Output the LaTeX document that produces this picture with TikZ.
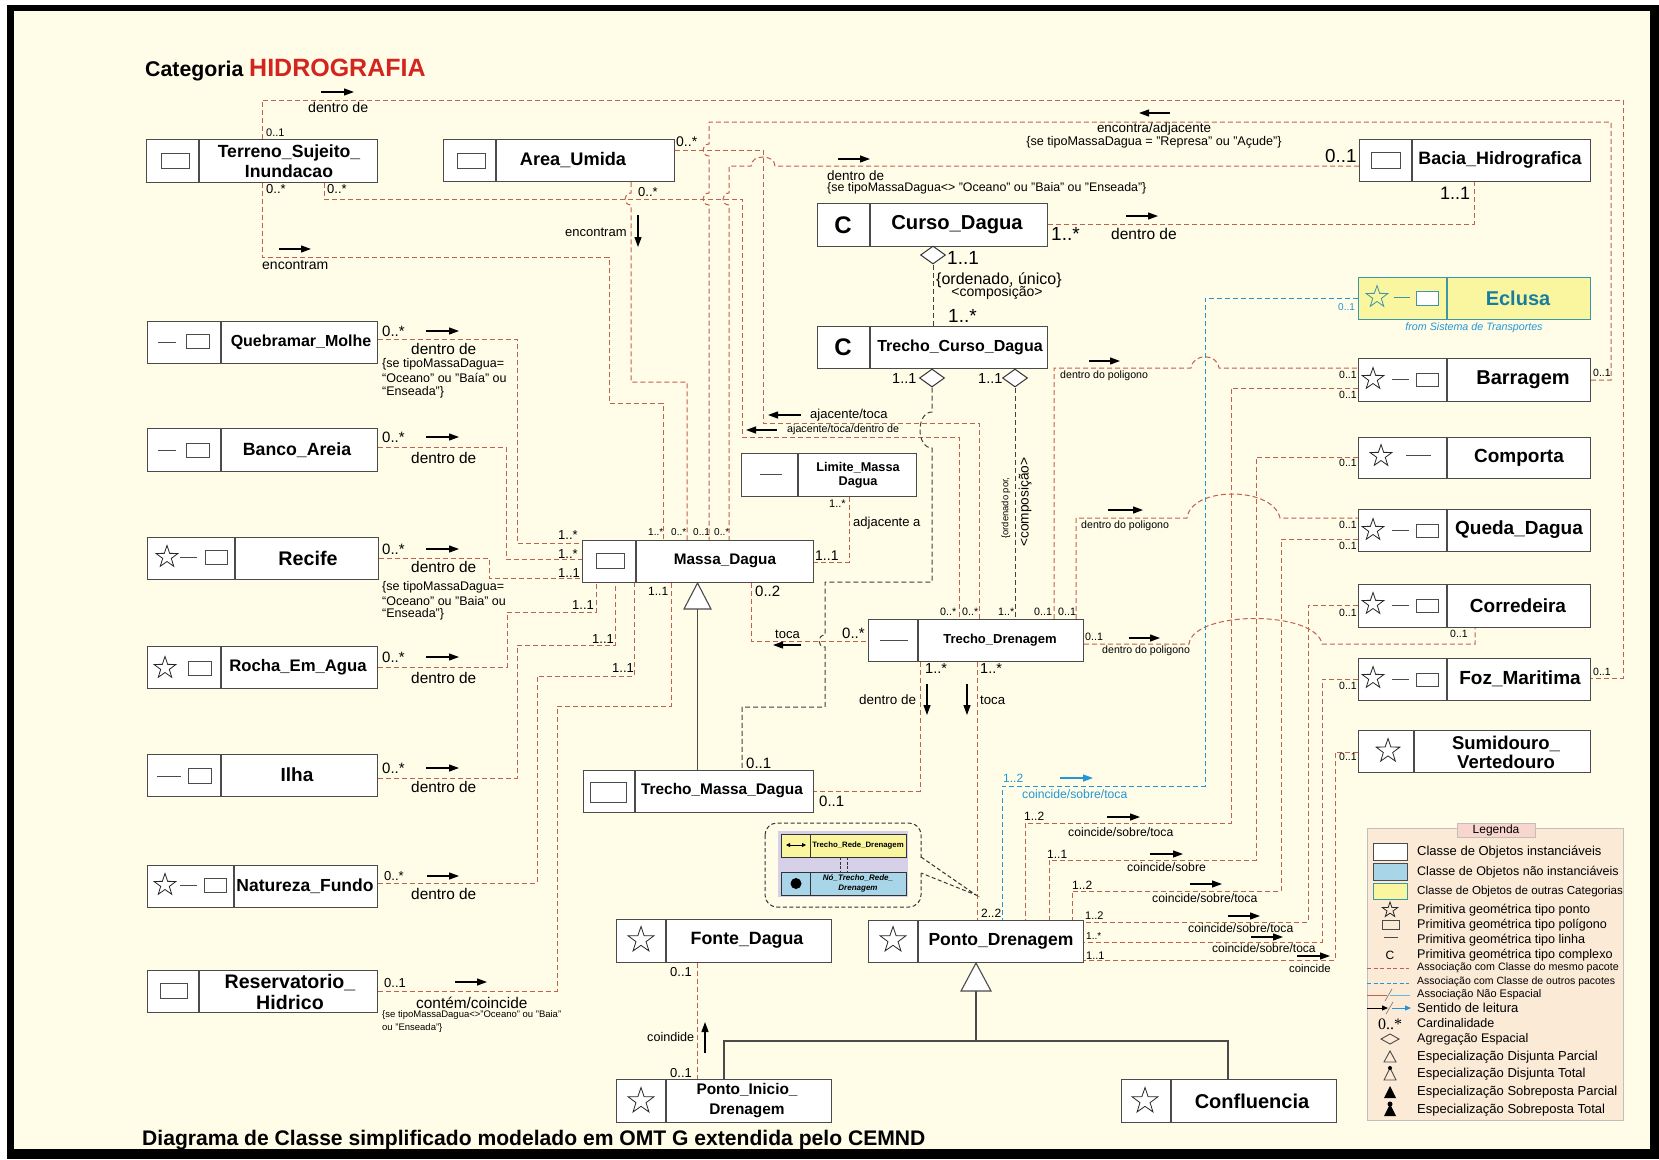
\documentclass[tikz,border=0pt]{standalone}
\usepackage{fontspec}
\setmainfont{Liberation Sans}
\newfontfamily\serifF{Liberation Serif}
\usetikzlibrary{shapes.geometric,arrows.meta,backgrounds}
\newcommand\fsz[1]{\fontsize{#1}{#1}\selectfont}
\definecolor{bgc}{RGB}{255,252,231}
\definecolor{redc}{RGB}{192,96,78}
\definecolor{bluec}{RGB}{35,150,215}
\definecolor{boxc}{RGB}{75,75,75}
\definecolor{titred}{RGB}{212,36,30}
\definecolor{ecfill}{RGB}{250,246,160}
\definecolor{ecline}{RGB}{60,150,165}
\definecolor{ectext}{RGB}{25,125,160}
\definecolor{legbg}{RGB}{251,234,214}
\definecolor{legtit}{RGB}{248,214,206}
\definecolor{lblue}{RGB}{168,214,232}
\definecolor{lav}{RGB}{214,208,232}
\newcommand\cbox[6]{%
  \node[cls,minimum width={#4-#2},minimum height={#5-#3}] (#1) at (#2,#3) {};
  \draw[dv] (#6,#3) -- (#6,#5);}
\begin{document}
\begin{tikzpicture}[x=1pt,y=-1pt,
  cls/.style={draw=boxc,fill=white,line width=1.1pt,inner sep=0pt,anchor=north west},
  dv/.style={draw=boxc,line width=1.1pt},
  rl/.style={draw=redc,line width=1pt,dash pattern=on 5pt off 3pt},
  bll/.style={draw=bluec,line width=1pt,dash pattern=on 5pt off 3pt},
  kl/.style={draw=black!75,line width=1pt,dash pattern=on 5pt off 3pt},
  gl/.style={draw=boxc,line width=1.1pt},
  ra/.style={draw=black,line width=1.2pt,-{Triangle[length=10pt,width=7pt]}},
  ba/.style={draw=bluec,line width=1.2pt,-{Triangle[length=10pt,width=7pt]}},
  lb/.style={inner sep=0pt,anchor=west},
  nm/.style={inner sep=0pt,align=center},
  ic/.style={draw=boxc,line width=1pt},
  st/.style={star,star points=5,star point ratio=2.55,draw=black!85,line width=0.8pt,inner sep=0pt,minimum size=#1},
]
\useasboundingbox (0,0) rectangle (1659,1159);

% ---------------- boxes ----------------
\cbox{terreno}{146}{139}{377}{182}{199}
\draw[ic] (161,153) rectangle (189,168);
\node[nm,font=\bfseries\fontsize{17.6}{20}\selectfont] (terreno-t) at (289,161) {Terreno\_Sujeito\_\\Inundacao};

\cbox{area}{443}{139}{674}{181}{496}
\draw[ic] (457,153) rectangle (485,168);
\node[nm,font=\bfseries\fsz{18.2}] (area-t) at (573,160) {Area\_Umida};

\cbox{bacia}{1359}{139}{1590}{181}{1412}
\draw[ic] (1371,152) rectangle (1400,168);
\node[nm,font=\bfseries\fsz{17.9}] (bacia-t) at (1500,160) {Bacia\_Hidrografica};

\cbox{curso}{817}{203}{1047}{246}{870}
\node[nm,font=\bfseries\fsz{24}] (curso-c) at (843,225) {C};
\node[nm,font=\bfseries\fsz{20.2}] (curso-t) at (957,225) {Curso\_Dagua};

\cbox{tcd}{817}{326}{1047}{368}{870}
\node[nm,font=\bfseries\fsz{24}] (tcd-c) at (843,347) {C};
\node[nm,font=\bfseries\fsz{16}] (tcd-t) at (960,347) {Trecho\_Curso\_Dagua};

\node[cls,fill=ecfill,draw=ecline,minimum width=232,minimum height=42] (eclusa) at (1358,277) {};
\draw[draw=ecline,line width=1.1pt] (1447,277) -- (1447,319);
\node[st=23pt,draw=ecline] (eclusa-s) at (1377,297) {};
\draw[draw=ecline,line width=1pt] (1394,297) -- (1410,297);
\draw[draw=ecline,fill=white,line width=1pt] (1416,291) rectangle (1438,305);
\node[nm,font=\bfseries\fsz{20},text=ectext] (eclusa-t) at (1518,298) {Eclusa};
\node[nm,font=\itshape\fsz{10.7},text=bluec] (eclusa-f) at (1474,328) {from Sistema de Transportes};

% right column
\cbox{barragem}{1358}{358}{1590}{401}{1447}
\node[st=23pt] (barragem-s) at (1373,379) {};
\draw[ic] (1392,379) -- (1409,379);
\draw[ic] (1416,373) rectangle (1438,386);
\node[nm,font=\bfseries\fsz{20}] (barragem-t) at (1523,380) {Barragem};

\cbox{comporta}{1358}{437}{1590}{478}{1447}
\node[st=23pt] (comporta-s) at (1381,456) {};
\draw[ic] (1406,455) -- (1431,455);
\node[nm,font=\bfseries\fsz{19}] (comporta-t) at (1519,458) {Comporta};

\cbox{queda}{1358}{509}{1590}{551}{1447}
\node[st=23pt] (queda-s) at (1373,530) {};
\draw[ic] (1392,530) -- (1409,530);
\draw[ic] (1416,524) rectangle (1438,537);
\node[nm,font=\bfseries\fsz{19}] (queda-t) at (1519,530) {Queda\_Dagua};

\cbox{corredeira}{1358}{584}{1590}{627}{1447}
\node[st=23pt] (corredeira-s) at (1373,604) {};
\draw[ic] (1392,605) -- (1409,605);
\draw[ic] (1416,599) rectangle (1438,612);
\node[nm,font=\bfseries\fsz{19}] (corredeira-t) at (1518,606) {Corredeira};

\cbox{foz}{1358}{658}{1590}{700}{1447}
\node[st=23pt] (foz-s) at (1373,678) {};
\draw[ic] (1392,679) -- (1409,679);
\draw[ic] (1416,673) rectangle (1438,686);
\node[nm,font=\bfseries\fsz{19}] (foz-t) at (1520,679) {Foz\_Maritima};

\cbox{sumidouro}{1358}{730}{1590}{772}{1414}
\node[st=25pt] (sumidouro-s) at (1388,751) {};
\node[nm,font=\bfseries\fontsize{18.5}{19}\selectfont] (sumidouro-t) at (1506,752) {Sumidouro\_\\Vertedouro};

% left column
\cbox{quebramar}{147}{321}{377}{363}{221}
\draw[ic] (158,342) -- (176,342);
\draw[ic] (186,334) rectangle (209,348);
\node[nm,font=\bfseries\fsz{16}] (quebramar-t) at (301,342) {Quebramar\_Molhe};

\cbox{banco}{147}{428}{377}{471}{221}
\draw[ic] (158,450) -- (176,450);
\draw[ic] (186,443) rectangle (209,457);
\node[nm,font=\bfseries\fsz{17.7}] (banco-t) at (297,450) {Banco\_Areia};

\cbox{recife}{147}{537}{378}{579}{235}
\node[st=23pt] (recife-s) at (167,557) {};
\draw[ic] (180,557) -- (197,557);
\draw[ic] (205,550) rectangle (227,564);
\node[nm,font=\bfseries\fsz{19.7}] (recife-t) at (308,558) {Recife};

\cbox{rocha}{147}{646}{377}{688}{221}
\node[st=23pt] (rocha-s) at (165,668) {};
\draw[ic] (188,661) rectangle (211,675);
\node[nm,font=\bfseries\fsz{16.7}] (rocha-t) at (298,667) {Rocha\_Em\_Agua};

\cbox{ilha}{147}{754}{377}{796}{221}
\draw[ic] (157,776) -- (181,776);
\draw[ic] (188,768) rectangle (211,783);
\node[nm,font=\bfseries\fsz{19}] (ilha-t) at (297,775) {Ilha};

\cbox{natureza}{147}{865}{377}{907}{234}
\node[st=23pt] (natureza-s) at (165,885) {};
\draw[ic] (180,885) -- (197,885);
\draw[ic] (204,878) rectangle (226,892);
\node[nm,font=\bfseries\fsz{17.5}] (natureza-t) at (305,886) {Natureza\_Fundo};

\cbox{reserv}{147}{970}{377}{1012}{199}
\draw[ic] (160,983) rectangle (187,998);
\node[nm,font=\bfseries\fontsize{19.6}{21}\selectfont] (reserv-t) at (290,992) {Reservatorio\_\\Hidrico};

% middle
\cbox{massa}{582}{540}{813}{582}{636}
\draw[ic] (596,553) rectangle (624,568);
\node[nm,font=\bfseries\fsz{15.3}] (massa-t) at (725,561) {Massa\_Dagua};

\cbox{limite}{741}{453}{916}{496}{798}
\draw[ic] (760,474) -- (782,474);
\node[nm,font=\bfseries\fontsize{12.7}{14}\selectfont] (limite-t) at (858,475) {Limite\_Massa\\Dagua};

\cbox{td}{868}{619}{1083}{661}{918}
\draw[ic] (880,640) -- (908,640);
\node[nm,font=\bfseries\fsz{13}] (td-t) at (1000,640) {Trecho\_Drenagem};

\cbox{tmd}{583}{770}{813}{812}{635}
\draw[ic] (590,782) rectangle (626,802);
\node[nm,font=\bfseries\fsz{15.4}] (tmd-t) at (722,791) {Trecho\_Massa\_Dagua};

\cbox{fonte}{616}{919}{831}{962}{666}
\node[st=27pt] (fonte-s) at (641,940) {};
\node[nm,font=\bfseries\fsz{17.8}] (fonte-t) at (747,940) {Fonte\_Dagua};

\cbox{pd}{868}{920}{1083}{962}{918}
\node[st=27pt] (pd-s) at (893,940) {};
\node[nm,font=\bfseries\fsz{17.5}] (pd-t) at (1001,941) {Ponto\_Drenagem};

\cbox{pinicio}{616}{1079}{831}{1122}{666}
\node[st=27pt] (pinicio-s) at (641,1101) {};
\node[nm,font=\bfseries\fontsize{15.4}{20}\selectfont] (pinicio-t) at (747,1101) {Ponto\_Inicio\_\\Drenagem};

\cbox{confl}{1121}{1079}{1336}{1122}{1171}
\node[st=27pt] (confl-s) at (1145,1101) {};
\node[nm,font=\bfseries\fsz{20}] (confl-t) at (1252,1101) {Confluencia};

% diamonds
\node[diamond,draw=black!80,fill=white,line width=1pt,minimum width=25pt,minimum height=18pt,inner sep=0pt] (dg1) at (933,255) {};
\node[diamond,draw=black!80,fill=white,line width=1pt,minimum width=25pt,minimum height=18pt,inner sep=0pt] (dg2) at (932,378) {};
\node[diamond,draw=black!80,fill=white,line width=1pt,minimum width=25pt,minimum height=18pt,inner sep=0pt] (dg3) at (1015,378) {};

% generalization triangles
\draw[gl,fill=white] (697.5,583) -- (711,609) -- (684,609) -- cycle;
\draw[gl,fill=white] (976,963) -- (991,991) -- (961,991) -- cycle;
\coordinate (g1) at (697.5,609);
\coordinate (g2) at (976,991);

% ---------------- connectors (background) ----------------
\begin{pgfonlayer}{background}
\fill[white] (0,0) rectangle (1659,1159);
\fill[black] (7,5) rectangle (1659,1159);
\fill[bgc] (14,11) rectangle (1650,1149);

\draw[gl] (g1) -- (tmd.north -| g1);
\draw[gl] (g2) -- (976,1041);
\draw[gl] (pinicio.north -| 724,0) -- (724,1041) -- (1228,1041) -- (confl.north -| 1228,0);

\draw[rl] (terreno.north -| 262,0) -- (262,100) -- (1623,100) -- (1623,678) -- (foz.east |- 0,678);
\draw[rl] (terreno.south -| 262,0) -- (262,257) -- (609,257) -- (609,403) -- (663,403) -- (massa.north -| 663,0);
\draw[rl] (terreno.south -| 324,0) -- (324,199) -- (742,199) -- (742,437) -- (959,437) -- (td.north -| 959,0);
\draw[rl] (area.east |- 0,150) -- (763,150) -- (763,423) -- (979,423) -- (td.north -| 979,0);
\draw[rl] (area.south -| 631,0) -- (631,193) .. controls (623,193) and (623,205) .. (631,205) -- (631,382) -- (687,382) -- (massa.north -| 687,0);
\draw[rl] (barragem.east |- 0,380) -- (1611,380) -- (1611,122) -- (709,122) -- (709,144) .. controls (701,144) and (701,156) .. (709,156) -- (709,193) .. controls (701,193) and (701,205) .. (709,205) -- (massa.north -| 709,0);
\draw[rl] (bacia.west |- 0,166) -- (775,166) .. controls (775,154) and (751,154) .. (751,166) -- (729,166) -- (729,193) .. controls (721,193) and (721,205) .. (729,205) -- (massa.north -| 729,0);
\draw[rl] (curso.east |- 0,224) -- (1474,224) -- (bacia.south -| 1474,0);

\draw[kl] (dg1.south) -- (tcd.north -| dg1.south);
\draw[kl] (dg2.south) -- (932,412) .. controls (916,412) and (916,448) .. (932,448) -- (932,582) -- (825,582) -- (825,635) .. controls (817,635) and (817,647) .. (825,647) -- (825,707) -- (742,707) -- (tmd.north -| 742,0);
\draw[kl] (dg3.south) -- (td.north -| dg3.south);

\draw[rl] (limite.south -| 849,0) -- (849,562) -- (massa.east |- 0,562);
\draw[rl] (massa.south -| 751,0) -- (751,641) -- (td.west |- 0,641);
\draw[rl] (td.south -| 920,0) -- (920,791) -- (tmd.east |- 0,791);
\draw[rl] (td.south -| 977,0) -- (pd.north -| 977,0);
\draw[rl] (td.north -| 1054,0) -- (1054,368) -- (1191,368) .. controls (1193,353) and (1217,353) .. (1219,368) -- (barragem.west |- 0,368);
\draw[rl] (td.north -| 1076,0) -- (1076,518) -- (1187,518) .. controls (1191,486) and (1273,486) .. (1280,518) -- (queda.west |- 0,518);
\draw[rl] (td.east |- 0,644) -- (1189,644) .. controls (1193,610) and (1316,610) .. (1322,644) -- (1475,644) -- (corredeira.south -| 1475,0);

\draw[bll] (eclusa.west |- 0,298) -- (1205,298) -- (1205,786) -- (1002,786) -- (pd.north -| 1002,0);
\draw[rl] (barragem.west |- 0,388) -- (1231,388) -- (1231,823) -- (1025,823) -- (pd.north -| 1025,0);
\draw[rl] (comporta.west |- 0,457) -- (1256,457) -- (1256,860) -- (1049,860) -- (pd.north -| 1049,0);
\draw[rl] (queda.west |- 0,539) -- (1281,539) -- (1281,891) -- (1072,891) -- (pd.north -| 1072,0);
\draw[rl] (corredeira.west |- 0,605) -- (1308,605) -- (1308,922) -- (pd.east |- 0,922);
\draw[rl] (foz.west |- 0,679) -- (1322,679) -- (1322,942) -- (pd.east |- 0,942);
\draw[rl] (sumidouro.west |- 0,752) -- (1335,752) -- (1335,960) -- (pd.east |- 0,960);
\draw[rl] (fonte.south -| 697,0) -- (pinicio.north -| 697,0);

\draw[rl] (quebramar.east |- 0,339) -- (517,339) -- (517,543) -- (massa.west |- 0,543);
\draw[rl] (banco.east |- 0,447) -- (506,447) -- (506,559) -- (massa.west |- 0,559);
\draw[rl] (recife.east |- 0,558) -- (489,558) -- (489,578) -- (massa.west |- 0,578);
\draw[rl] (rocha.east |- 0,667) -- (507,667) -- (507,612) -- (596,612) -- (massa.south -| 596,0);
\draw[rl] (ilha.east |- 0,778) -- (517,778) -- (517,645) -- (615,645) -- (massa.south -| 615,0);
\draw[rl] (natureza.east |- 0,883) -- (537,883) -- (537,676) -- (634,676) -- (massa.south -| 634,0);
\draw[rl] (reserv.east |- 0,991) -- (557,991) -- (557,706) -- (671,706) -- (massa.south -| 671,0);
\end{pgfonlayer}

% ---------------- title / caption ----------------
\node[inner sep=0pt,anchor=base west,font=\bfseries\fsz{21.3}] (title1) at (145,76) {Categoria};
\node[inner sep=0pt,anchor=base west,font=\bfseries\fsz{25},text=titred] (title2) at (249,76) {HIDROGRAFIA};
\node[inner sep=0pt,anchor=base west,font=\bfseries\fsz{21.1}] (caption) at (142,1145) {Diagrama de Classe simplificado modelado em OMT G extendida pelo CEMND};

% ---------------- labels ----------------
\node[lb,font=\fsz{11}] (m1a) at (266,133) {0..1};
\draw[ra] (321,92) -- (354,92);
\node[lb,font=\fsz{14.2}] (t1) at (308,107) {dentro de};
\node[lb,font=\fsz{10.5}] (m1b) at (1593,672) {0..1};

\node[lb,font=\fsz{13}] (m2a) at (266,189) {0..*};
\draw[ra] (279,249) -- (311,249);
\node[lb,font=\fsz{14}] (t2) at (262,265) {encontram};
\node[lb,font=\fsz{10}] (m2b) at (648,532) {1..*};

\node[lb,font=\fsz{13}] (m3a) at (327,189) {0..*};
\node[lb,font=\fsz{10.7}] (m3b) at (940,612) {0..*};
\draw[ra] (777,430) -- (746,430);
\node[lb,font=\fsz{10.7}] (t3) at (787,430) {ajacente/toca/dentro de};

\node[lb,font=\fsz{14}] (m4a) at (676,142) {0..*};
\node[lb,font=\fsz{10.7}] (m4b) at (962,612) {0..*};
\draw[ra] (801,415) -- (768,415);
\node[lb,font=\fsz{13}] (t4) at (810,415) {ajacente/toca};

\node[lb,font=\fsz{13}] (m5a) at (638,192) {0..*};
\draw[ra] (638,215) -- (638,247);
\node[lb,font=\fsz{13}] (t5) at (565,232) {encontram};
\node[lb,font=\fsz{10}] (m5b) at (671,532) {0..*};

\node[lb,font=\fsz{10.5}] (m6a) at (1593,373) {0..1};
\draw[ra] (1170,113) -- (1139,113);
\node[inner sep=0pt,font=\fsz{13.4}] (t6) at (1154,129) {encontra/adjacente};
\node[inner sep=0pt,font=\fsz{12.6}] (t6b) at (1154,142) {\{se tipoMassaDagua = "Represa" ou "Açude"\}};
\node[lb,font=\fsz{10}] (m6b) at (693,532) {0..1};

\node[lb,font=\fsz{18.8}] (m7a) at (1325,156) {0..1};
\draw[ra] (838,159) -- (870,159);
\node[lb,font=\fsz{13.5}] (t7) at (827,176) {dentro de};
\node[lb,font=\fsz{12.4}] (t7b) at (827,188) {\{se tipoMassaDagua<> "Oceano" ou "Baia" ou "Enseada"\}};
\node[lb,font=\fsz{10}] (m7b) at (714,532) {0..*};

\node[lb,font=\fsz{19}] (m8a) at (1051,234) {1..*};
\node[lb,font=\fsz{18}] (m8b) at (1440,193) {1..1};
\draw[ra] (1126,216) -- (1158,216);
\node[lb,font=\fsz{15.5}] (t8) at (1111,234) {dentro de};

\node[lb,font=\fsz{19}] (m9a) at (947,258) {1..1};
\node[lb,font=\fsz{16}] (t9a) at (936,280) {\{ordenado, único\}};
\node[inner sep=0pt,font=\fsz{14}] (t9b) at (997,293) {<composição>};
\node[lb,font=\fsz{19}] (m9b) at (948,316) {1..*};

\node[lb,font=\fsz{14.5}] (m10a) at (892,379) {1..1};
\node[lb,font=\fsz{15}] (m10b) at (746,763) {0..1};
\node[lb,font=\fsz{14.5}] (m11a) at (978,379) {1..1};
\node[lb,font=\fsz{10.7}] (m11b) at (998,612) {1..*};
\node[inner sep=0pt,font=\fsz{9.4},rotate=90] (t11a) at (1006,508) {\{ordenado por,};
\node[inner sep=0pt,font=\fsz{13.7},rotate=90] (t11b) at (1025,502) {<composição>};

\node[lb,font=\fsz{11}] (m12a) at (829,504) {1..*};
\node[lb,font=\fsz{13}] (t12) at (853,523) {adjacente a};
\node[lb,font=\fsz{14}] (m12b) at (815,556) {1..1};

\node[lb,font=\fsz{15}] (m13a) at (755,591) {0..2};
\node[lb,font=\fsz{13}] (t13) at (775,634) {toca};
\draw[ra] (801,645) -- (773,645);
\node[lb,font=\fsz{15}] (m13b) at (842,633) {0..*};

\node[lb,font=\fsz{14.5}] (m14a) at (925,669) {1..*};
\node[lb,font=\fsz{13.5}] (t14) at (859,700) {dentro de};
\draw[ra] (927,684) -- (927,715);
\node[lb,font=\fsz{15}] (m14b) at (819,801) {0..1};

\node[lb,font=\fsz{14.5}] (m15a) at (980,669) {1..*};
\node[lb,font=\fsz{13.2}] (t15) at (980,700) {toca};
\draw[ra] (967,684) -- (967,715);
\node[lb,font=\fsz{12}] (m15b) at (981,913) {2..2};

\node[lb,font=\fsz{10.7}] (m16a) at (1034,612) {0..1};
\node[lb,font=\fsz{10.5}] (m16b) at (1339,375) {0..1};
\draw[ra] (1089,361) -- (1120,361);
\node[lb,font=\fsz{10.6}] (t16) at (1060,376) {dentro do poligono};

\node[lb,font=\fsz{10.7}] (m17a) at (1058,612) {0..1};
\node[lb,font=\fsz{10.5}] (m17b) at (1339,525) {0..1};
\draw[ra] (1108,510) -- (1143,510);
\node[lb,font=\fsz{10.6}] (t17) at (1081,526) {dentro do poligono};

\node[lb,font=\fsz{10.7}] (m18a) at (1085,637) {0..1};
\draw[ra] (1129,638) -- (1160,638);
\node[lb,font=\fsz{10.6}] (t18) at (1102,651) {dentro do poligono};
\node[lb,font=\fsz{10.5}] (m18b) at (1450,634) {0..1};

\node[lb,font=\fsz{10},text=bluec] (m19a) at (1338,307) {0..1};
\node[lb,font=\fsz{12},text=bluec] (m19b) at (1003,778) {1..2};
\draw[ba] (1060,778) -- (1093,778);
\node[lb,font=\fsz{12.2},text=bluec] (t19) at (1022,794) {coincide/sobre/toca};

\node[lb,font=\fsz{10.5}] (m20a) at (1339,395) {0..1};
\node[lb,font=\fsz{12}] (m20b) at (1024,816) {1..2};
\draw[ra] (1107,817) -- (1140,817);
\node[lb,font=\fsz{12.2}] (t20) at (1068,832) {coincide/sobre/toca};

\node[lb,font=\fsz{10.5}] (m21a) at (1339,463) {0..1};
\node[lb,font=\fsz{12}] (m21b) at (1047,854) {1..1};
\draw[ra] (1150,854) -- (1183,854);
\node[lb,font=\fsz{12.2}] (t21) at (1127,867) {coincide/sobre};

\node[lb,font=\fsz{10.5}] (m22a) at (1339,546) {0..1};
\node[lb,font=\fsz{12}] (m22b) at (1072,885) {1..2};
\draw[ra] (1190,884) -- (1222,884);
\node[lb,font=\fsz{12.2}] (t22) at (1152,898) {coincide/sobre/toca};

\node[lb,font=\fsz{10.5}] (m23a) at (1339,613) {0..1};
\node[lb,font=\fsz{11}] (m23b) at (1085,916) {1..2};
\draw[ra] (1228,916) -- (1260,916);
\node[lb,font=\fsz{12.2}] (t23) at (1188,928) {coincide/sobre/toca};

\node[lb,font=\fsz{10.5}] (m24a) at (1339,686) {0..1};
\node[lb,font=\fsz{10}] (m24b) at (1086,936) {1..*};
\draw[ra] (1251,937) -- (1283,937);
\node[lb,font=\fsz{12}] (t24) at (1212,948) {coincide/sobre/toca};

\node[lb,font=\fsz{10.5}] (m25a) at (1339,757) {0..1};
\node[lb,font=\fsz{11}] (m25b) at (1086,956) {1..1};
\draw[ra] (1297,956) -- (1330,956);
\node[lb,font=\fsz{11.3}] (t25) at (1289,968) {coincide};

\node[lb,font=\fsz{13}] (m26a) at (670,972) {0..1};
\node[lb,font=\fsz{13}] (m26b) at (670,1073) {0..1};
\node[lb,font=\fsz{12.6}] (t26) at (647,1037) {coindide};
\draw[ra] (705,1053) -- (705,1022);

% left labels
\node[lb,font=\fsz{15}] (q1) at (382,331) {0..*};
\draw[ra] (426,331) -- (459,331);
\node[lb,font=\fsz{15.4}] (q2) at (411,349) {dentro de};
\node[lb,font=\fsz{12.5}] (q3) at (382,364) {\{se tipoMassaDagua=};
\node[lb,font=\fsz{12.5}] (q4) at (382,378) {“Oceano” ou "Baía" ou};
\node[lb,font=\fsz{12.5}] (q5) at (382,392) {“Enseada”\}};
\node[lb,font=\fsz{13}] (q6) at (558,535) {1..*};

\node[lb,font=\fsz{15}] (b1) at (382,437) {0..*};
\draw[ra] (426,437) -- (459,437);
\node[lb,font=\fsz{15.4}] (b2) at (411,458) {dentro de};
\node[lb,font=\fsz{13}] (b3) at (558,554) {1..*};

\node[lb,font=\fsz{15}] (r1) at (382,549) {0..*};
\draw[ra] (426,549) -- (459,549);
\node[lb,font=\fsz{15.4}] (r2) at (411,567) {dentro de};
\node[lb,font=\fsz{12.5}] (r3) at (382,587) {\{se tipoMassaDagua=};
\node[lb,font=\fsz{12.5}] (r4) at (382,601) {“Oceano” ou "Baia" ou};
\node[lb,font=\fsz{12.5}] (r5) at (382,614) {“Enseada”\}};
\node[lb,font=\fsz{13}] (r6) at (558,573) {1..1};

\node[lb,font=\fsz{15}] (k1) at (382,657) {0..*};
\draw[ra] (426,657) -- (459,657);
\node[lb,font=\fsz{15.4}] (k2) at (411,678) {dentro de};
\node[lb,font=\fsz{13}] (k3) at (572,605) {1..1};

\node[lb,font=\fsz{15}] (i1) at (382,768) {0..*};
\draw[ra] (426,768) -- (459,768);
\node[lb,font=\fsz{15.4}] (i2) at (411,787) {dentro de};
\node[lb,font=\fsz{13}] (i3) at (592,639) {1..1};

\node[lb,font=\fsz{13}] (n1) at (384,876) {0..*};
\draw[ra] (427,876) -- (459,876);
\node[lb,font=\fsz{15.4}] (n2) at (411,894) {dentro de};
\node[lb,font=\fsz{13}] (n3) at (612,668) {1..1};

\node[lb,font=\fsz{13}] (h1) at (384,983) {0..1};
\draw[ra] (455,982) -- (487,982);
\node[lb,font=\fsz{15.4}] (h2) at (416,1003) {contém/coincide};
\node[lb,font=\fsz{9.5}] (h3) at (382,1015) {\{se tipoMassaDagua<>"Oceano" ou "Baia"};
\node[lb,font=\fsz{9.5}] (h4) at (382,1028) {ou "Enseada"\}};
\node[lb,font=\fsz{12}] (h5) at (648,591) {1..1};

% ---------------- callout ----------------
\draw[black!80,line width=1pt,dash pattern=on 4pt off 2.5pt,fill=bgc,rounded corners=12pt] (765,823) rectangle (921,907);
\fill[bgc] (918,858) rectangle (924,872);
\draw[black!80,line width=1pt,dash pattern=on 4pt off 2.5pt] (921,857) -- (976,895) -- (921,873);
\fill[lav] (778,831) rectangle (908,897);
\node[cls,fill=ecfill,draw=black!80,line width=0.9pt,minimum width=125,minimum height=23] (trd) at (781,834) {};
\draw[black!80,line width=0.9pt] (810,834) -- (810,857);
\draw[line width=0.8pt,{Triangle[length=4pt,width=4pt]}-{Triangle[length=4pt,width=4pt]}] (786,845) -- (806,845);
\node[nm,font=\bfseries\fsz{7.8}] (trd-t) at (858,845) {Trecho\_Rede\_Drenagem};
\draw[black!80,line width=0.8pt,dash pattern=on 3pt off 1.5pt] (840,857) -- (840,872) (847,857) -- (847,872);
\node[cls,fill=lblue,draw=black!80,line width=0.9pt,minimum width=125,minimum height=23] (ntrd) at (781,872) {};
\draw[black!80,line width=0.9pt] (810,872) -- (810,895);
\fill[black] (796,883.5) circle (5.5);
\node[nm,font=\bfseries\itshape\fontsize{8}{10}\selectfont] (ntrd-t) at (858,883.5) {Nó\_Trecho\_Rede\_\\Drenagem};

% ---------------- legend ----------------
\node[draw=black!25,fill=legbg,line width=0.6pt,minimum width=256,minimum height=292,anchor=north west,inner sep=0pt] (leg) at (1367,828) {};
\node[draw=black!25,fill=legtit,line width=0.6pt,minimum width=78,minimum height=14,inner sep=0pt,font=\fsz{12}] (legt) at (1496,830) {Legenda};
\draw[draw=boxc,fill=white,line width=1pt] (1373,843) rectangle (1407,860);
\draw[draw=boxc,fill=lblue,line width=1pt] (1373,863) rectangle (1407,880);
\draw[draw=ecline,fill=ecfill,line width=1pt] (1373,883) rectangle (1407,899);
\node[st=16pt] (leg-s) at (1390,910) {};
\draw[ic] (1382,920) rectangle (1399,929);
\draw[ic] (1384,937) -- (1398,937);
\node[inner sep=0pt,font=\fsz{12}] (leg-c) at (1390,955) {C};
\draw[redc,line width=1pt,dash pattern=on 4pt off 2.5pt] (1367,968) -- (1409,968);
\draw[bluec,line width=1pt,dash pattern=on 4pt off 2.5pt] (1367,983) -- (1409,983);
\draw[redc,line width=1pt] (1367,995) -- (1387,995);
\draw[bluec!70,line width=1pt] (1390,995) -- (1410,995);
\draw[black!50,line width=0.7pt] (1385,1001) -- (1392,989);
\draw[black,line width=1pt,-{Triangle[length=6pt,width=5pt]}] (1367,1008) -- (1388,1008);
\draw[black!50,line width=0.7pt] (1386,1014) -- (1393,1002);
\draw[bluec,line width=1pt,-{Triangle[length=6pt,width=5pt]}] (1392,1008) -- (1411,1008);
\node[inner sep=0pt,font=\serifF\fsz{16}] (leg-m) at (1390,1024) {0..*};
\draw[boxc,line width=0.9pt] (1381,1039) -- (1390,1034) -- (1399,1039) -- (1390,1044) -- cycle;
\draw[boxc,line width=0.9pt] (1390,1051) -- (1396,1062) -- (1384,1062) -- cycle;
\draw[boxc,line width=0.9pt] (1390,1068) -- (1396,1080) -- (1384,1080) -- cycle;
\fill[black] (1390,1068) circle (2);
\fill[black] (1390,1086) -- (1396,1098) -- (1384,1098) -- cycle;
\fill[black] (1390,1104) -- (1396,1116) -- (1384,1116) -- cycle;
\fill[black] (1390,1104) circle (2.5);
\node[lb,font=\fsz{13}] (l1) at (1417,852) {Classe de Objetos instanciáveis};
\node[lb,font=\fsz{12.5}] (l2) at (1417,872) {Classe de Objetos não instanciáveis};
\node[lb,font=\fsz{11.6}] (l3) at (1417,891) {Classe de Objetos de outras Categorias};
\node[lb,font=\fsz{12.6}] (l4) at (1417,910) {Primitiva geométrica tipo ponto};
\node[lb,font=\fsz{12.6}] (l5) at (1417,925) {Primitiva geométrica tipo polígono};
\node[lb,font=\fsz{12.6}] (l6) at (1417,940) {Primitiva geométrica tipo linha};
\node[lb,font=\fsz{12.6}] (l7) at (1417,955) {Primitiva geométrica tipo complexo};
\node[lb,font=\fsz{10.7}] (l8) at (1417,968) {Associação com Classe do mesmo pacote};
\node[lb,font=\fsz{10.5}] (l9) at (1417,982) {Associação com Classe de outros pacotes};
\node[lb,font=\fsz{11}] (l10) at (1417,995) {Associação Não Espacial};
\node[lb,font=\fsz{13}] (l11) at (1417,1008) {Sentido de leitura};
\node[lb,font=\fsz{12.5}] (l12) at (1417,1023) {Cardinalidade};
\node[lb,font=\fsz{12.5}] (l13) at (1417,1039) {Agregação Espacial};
\node[lb,font=\fsz{13}] (l14) at (1417,1057) {Especialização Disjunta Parcial};
\node[lb,font=\fsz{13}] (l15) at (1417,1074) {Especialização Disjunta Total};
\node[lb,font=\fsz{13}] (l16) at (1417,1092) {Especialização Sobreposta Parcial};
\node[lb,font=\fsz{13}] (l17) at (1417,1110) {Especialização Sobreposta Total};
\end{tikzpicture}
\end{document}
